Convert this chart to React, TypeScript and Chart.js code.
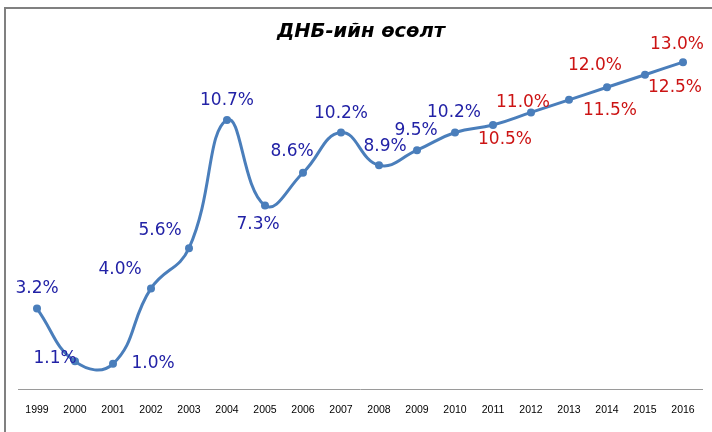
import React, { useEffect, useRef } from "react";
import { Chart, registerables } from "chart.js";

Chart.register(...registerables);

const years = ["1999","2000","2001","2002","2003","2004","2005","2006","2007","2008","2009","2010","2011","2012","2013","2014","2015","2016"];
const growth = [3.2, 1.1, 1.0, 4.0, 5.6, 10.7, 7.3, 8.6, 10.2, 8.9, 9.5, 10.2, 10.5, 11.0, 11.5, 12.0, 12.5, 13.0];
const firstForecastIndex = 12; // 2011 onward shown in red
const title = "ДНБ-ийн өсөлт";

// label placement relative to each point (pixels)
const labelOffsets: [number, number][] = [
  [0, -20], [-20, -3], [40, 0], [-31, -19], [-29, -18], [0, -19],
  [-7, 19], [-11, -21], [0, -19], [6, -19], [-1, -20], [-1, -20],
  [12, 15], [-8, -10], [41, 11], [-12, -22], [30, 13], [-6, -18],
];

const labelPlugin = {
  id: "customLabels",
  beforeDraw(chart: any) {
    const ctx = chart.ctx;
    ctx.save();
    ctx.fillStyle = "#808080";
    ctx.fillRect(4, 7, 2, 430);
    ctx.fillRect(4, 7, 712, 2);
    ctx.fillStyle = "#000";
    ctx.font = "italic bold 19.5px 'DejaVu Sans'";
    ctx.textAlign = "center";
    ctx.textBaseline = "middle";
    ctx.fillText(title, 361, 32);
    ctx.restore();
  },
  afterDatasetsDraw(chart: any) {
    const ctx = chart.ctx;
    const meta = chart.getDatasetMeta(0);
    ctx.save();
    ctx.font = "17px 'DejaVu Sans'";
    ctx.textAlign = "center";
    ctx.textBaseline = "middle";
    meta.data.forEach((pt: any, i: number) => {
      const [dx, dy] = labelOffsets[i];
      ctx.fillStyle = i >= firstForecastIndex ? "#CC1414" : "#2222A6";
      ctx.fillText(growth[i].toFixed(1) + "%", pt.x + dx, pt.y + dy);
    });
    ctx.restore();
  },
};

export default function App() {
  const ref = useRef<HTMLCanvasElement>(null);
  useEffect(() => {
    if (!ref.current) return;
    const chart = new Chart(ref.current, {
      type: "line",
      data: {
        labels: years,
        datasets: [
          {
            data: growth,
            borderColor: "#4A7EBB",
            backgroundColor: "#4A7EBB",
            borderWidth: 3,
            pointRadius: 4,
            pointBackgroundColor: "#4A7EBB",
            pointBorderWidth: 0,
            tension: 0.45,
            fill: false,
          },
        ],
      },
      options: {
        animation: false,
        responsive: false,
        maintainAspectRatio: false,
        layout: { padding: { left: 18, right: 10, top: 37, bottom: 0 } },
        plugins: { legend: { display: false }, title: { display: false }, tooltip: { enabled: false } },
        scales: {
          x: {
            offset: true,
            grid: { display: false, drawTicks: false },
            border: { display: true, color: "#9a9a9a", width: 1 },
            ticks: { color: "#000", font: { family: "'Liberation Sans'", size: 10.5 }, padding: 15, maxRotation: 0, autoSkip: false },
            afterFit: (s: any) => { s.height = 43; },
          },
          y: {
            display: false,
            min: 0,
            max: 14,
          },
        },
      },
      plugins: [labelPlugin],
    });
    return () => chart.destroy();
  }, []);
  return (
    <div style={{ position: "fixed", left: 0, top: 0, width: 712, height: 432, background: "#fff" }}>
      <canvas ref={ref} width={712} height={432} style={{ display: "block", width: 712, height: 432 }} />
    </div>
  );
}
